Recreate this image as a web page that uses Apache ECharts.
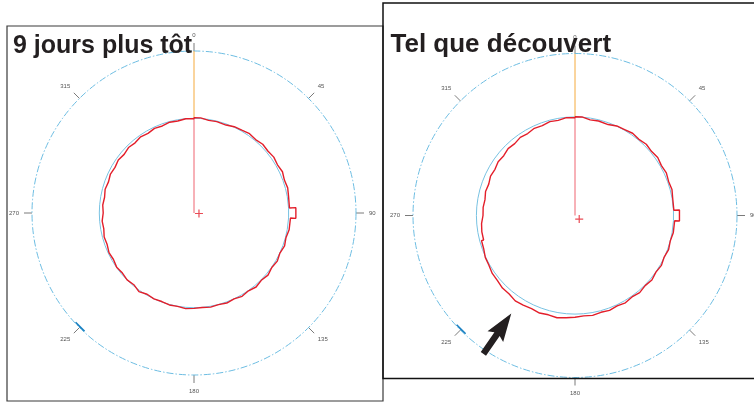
<!DOCTYPE html>
<html><head><meta charset="utf-8">
<script src="https://cdn.jsdelivr.net/npm/echarts@6/dist/echarts.min.js"></script>
<style>html,body{margin:0;padding:0;background:#fff}#c{width:754px;height:402px}</style>
</head><body><div id="c"></div>
<script>
// ---- data ----
const titles = ['9 jours plus tôt', 'Tel que découvert'];
const angleTicks = [0, 45, 90, 135, 180, 225, 270, 315];
const outerRadius = 162;            // radius value of the dash-dot outer circle
const refRadius = [94.7, 98.6];     // reference (blue) circle per panel
// step boundaries (degrees, clockwise from top)
const stepEdges = [0,4,9,14,20,25,30,35,40,45,50,55,60,65,70,75,80,87,93,100,105,110,115,120,125,130,135,140,145,150,155,160,165,170,175,180,185,190,195,200,205,210,215,220,225,230,235,240,245,250,255,260,265,270,275,280,285,290,295,300,305,310,315,320,325,330,335,340,345,350,355,360];
const leftRadius = [95.4,93.8,94.2,93.6,95.2,95.6,96.8,95.8,97.2,96.4,97.4,96.4,97.6,96.2,97.0,96.0,95.6,102.0,96.6,95.2,96.4,94.8,96.2,95.0,96.6,95.2,96.6,95.0,96.2,94.8,95.8,94.8,95.6,94.8,95.4,96.0,94.8,95.2,94.2,94.8,93.8,96.0,93.6,94.6,93.4,94.4,93.0,93.8,92.4,93.0,91.6,92.2,90.8,91.6,90.8,92.0,91.0,92.2,91.2,92.4,91.2,92.6,91.6,93.0,92.0,93.4,92.6,94.0,93.4,94.6,94.2];
const rightRadius = [98.8,96.8,97.4,96.8,98.8,99.2,100.4,99.4,100.8,99.8,101.0,99.8,100.8,99.6,100.4,99.2,99.0,104.6,99.8,98.6,99.6,98.4,99.8,98.8,100.4,99.2,100.6,99.4,100.8,99.8,101.0,100.2,101.4,100.8,101.8,102.6,103.8,102.8,103.8,102.8,103.6,104.2,102.4,102.6,101.2,101.0,99.4,99.0,97.2,96.8,94.6,93.8,92.0,92.2,91.4,92.6,91.8,93.2,92.4,93.8,93.0,94.6,93.8,95.4,94.6,96.2,95.6,97.2,96.6,98.2,97.8];
const centerMark = [[5, 96], [5.5, 130]];        // [radius, angle] of the measured centre (+)
const markerArc = [222.8, 227.3];                 // blue mark on the outer circle
const arrowPolar = {tip: [117, 213], tail: [166, 213.5]}; // arrow in right panel

// ---- build ----
const RED = '#e31e2a', BLUE = '#78c2e2', FONT = 'Liberation Sans';
function stepData(edges, radii) {
  const d = [];
  radii.forEach((r, i) => { d.push([r, edges[i]]); d.push([r, edges[i + 1]]); });
  d.push([radii[0], 360]);
  return d;
}
const panels = [
  {center: [194, 213], radii: leftRadius},
  {center: [575, 215.5], radii: rightRadius}
];
const polar = [], angleAxis = [], radiusAxis = [], series = [];
panels.forEach((p, k) => {
  polar.push({center: p.center, radius: outerRadius});
  angleAxis.push({
    polarIndex: k, type: 'value', min: 0, max: 360, interval: 45, startAngle: 90, clockwise: true,
    axisLine: {lineStyle: {color: '#6dbde2', width: 1, type: [7, 2, 1.5, 2]}},
    axisTick: {length: 8, lineStyle: {color: '#7a7a7a', width: 1}},
    axisLabel: {margin: 13, fontSize: 6, color: '#555', fontFamily: FONT,
      formatter: v => angleTicks.indexOf(v) >= 0 ? String(v) : ''},
    splitLine: {show: false}
  });
  radiusAxis.push({polarIndex: k, type: 'value', min: 0, max: outerRadius,
    axisLine: {show: false}, axisTick: {show: false}, axisLabel: {show: false}, splitLine: {show: false}});
  series.push({type: 'line', coordinateSystem: 'polar', polarIndex: k, showSymbol: false, silent: true,
    data: stepEdges.map(a => [refRadius[k], a]), lineStyle: {color: BLUE, width: 1}, z: 2});
  series.push({type: 'line', coordinateSystem: 'polar', polarIndex: k, showSymbol: false, silent: true,
    data: [[0, 0], [p.radii[0], 0]], lineStyle: {color: '#ef6470', width: 1}, z: 3});
  series.push({type: 'line', coordinateSystem: 'polar', polarIndex: k, showSymbol: false, silent: true,
    data: [[p.radii[0], 0], [outerRadius, 0]], lineStyle: {color: '#f5aa3c', width: 1}, z: 3});
  series.push({type: 'line', coordinateSystem: 'polar', polarIndex: k, showSymbol: false, silent: true,
    data: stepData(stepEdges, p.radii), lineStyle: {color: RED, width: 1.4}, z: 4});
  series.push({type: 'scatter', coordinateSystem: 'polar', polarIndex: k, silent: true,
    symbol: 'path://M3.4,0h1.2v8h-1.2zM0,3.4h8v1.2h-8z', symbolSize: 8,
    data: [centerMark[k]], itemStyle: {color: RED}, z: 5});
  series.push({type: 'line', coordinateSystem: 'polar', polarIndex: k, showSymbol: false, silent: true, clip: false,
    data: [[outerRadius, markerArc[0]], [outerRadius, markerArc[1]]], lineStyle: {color: '#1a80c2', width: 3.5, cap: 'butt'}, z: 5});
});

const graphic = [
  {type: 'rect', id: 'boxL', shape: {x: 7, y: 26, width: 376, height: 375}, style: {fill: 'none', stroke: '#3a3a3a', lineWidth: 1.2}, z: 1},
  {type: 'rect', id: 'boxR', shape: {x: 383, y: 3, width: 390, height: 375.5}, style: {fill: 'none', stroke: '#111', lineWidth: 1.5}, z: 1},
  {type: 'text', id: 't0', x: 13, y: 46.5, style: {text: titles[0], font: 'bold 25px "Liberation Sans"', fill: '#231f20', textVerticalAlign: 'middle'}, z: 100},
  {type: 'text', id: 't1', x: 390.5, y: 45, style: {text: titles[1], font: 'bold 26px "Liberation Sans"', fill: '#231f20', textVerticalAlign: 'middle'}, z: 100}
];

const chart = echarts.init(document.getElementById('c'), null, {renderer: 'canvas'});
chart.setOption({animation: false, polar, angleAxis, radiusAxis, series, graphic});

// arrow (annotation) positioned through the right panel's polar system
try {
  const tip = chart.convertToPixel({polarIndex: 1}, arrowPolar.tip);
  const tail = chart.convertToPixel({polarIndex: 1}, arrowPolar.tail);
  const dx = tip[0] - tail[0], dy = tip[1] - tail[1], L = Math.hypot(dx, dy);
  const ux = dx / L, uy = dy / L, nx = -uy, ny = ux;
  const headLen = 25, headW = 9.5, shaftW = 3.2, barb = 3;
  const bx = tip[0] - ux * headLen, by = tip[1] - uy * headLen;
  const pts = [
    tip,
    [bx + nx * headW - ux * barb, by + ny * headW - uy * barb],
    [bx + nx * shaftW, by + ny * shaftW],
    [tail[0] + nx * shaftW, tail[1] + ny * shaftW],
    [tail[0] - nx * shaftW, tail[1] - ny * shaftW],
    [bx - nx * shaftW, by - ny * shaftW],
    [bx - nx * headW - ux * barb, by - ny * headW - uy * barb]
  ];
  chart.setOption({graphic: [{type: 'polygon', id: 'arrow', shape: {points: pts}, style: {fill: '#231f20'}, z: 50}]});
} catch (e) {}
</script></body></html>
